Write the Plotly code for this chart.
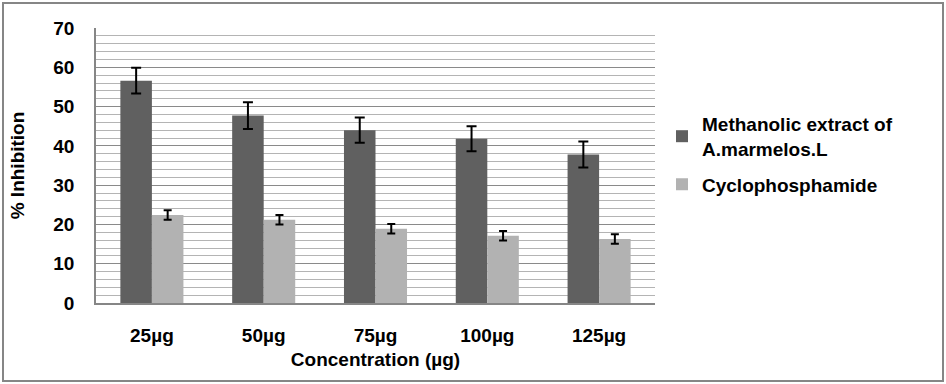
import plotly.graph_objects as go

categories = ["25µg", "50µg", "75µg", "100µg", "125µg"]
methanolic = [56.6, 47.7, 44.0, 41.8, 37.8]
methanolic_err = [3.3, 3.4, 3.2, 3.2, 3.3]
cyclo = [22.4, 21.2, 18.9, 17.1, 16.3]
cyclo_err = [1.2, 1.2, 1.2, 1.2, 1.2]
yticks = [0, 10, 20, 30, 40, 50, 60, 70]

W, H = 946, 384
L, R, T, B = 96, 291, 28, 81
pw, ph = W - L - R, H - T - B

font = dict(family="Arial, Liberation Sans, sans-serif", size=19, color="black", weight="bold")

fig = go.Figure()
fig.add_trace(go.Bar(
    x=categories, y=methanolic, name="Methanolic extract of<br>A.marmelos.L",
    legendgroup="a",
    marker=dict(color="#606060", line=dict(width=0)),
    error_y=dict(type="data", array=methanolic_err, color="black", thickness=2, width=5),
))
fig.add_trace(go.Bar(
    x=categories, y=cyclo, name="Cyclophosphamide",
    legendgroup="b",
    marker=dict(color="#b2b2b2", line=dict(width=0)),
    error_y=dict(type="data", array=cyclo_err, color="black", thickness=2, width=4),
))

fig.update_layout(
    width=W, height=H,
    margin=dict(l=L, r=R, t=T, b=B, pad=0),
    paper_bgcolor="white", plot_bgcolor="white",
    barmode="group", bargap=0.436, bargroupgap=0,
    font=font,
    showlegend=True,
    legend=dict(x=(662 - L) / pw, y=(303 - 105) / ph, xanchor="left", yanchor="top",
                font=font, tracegroupgap=8, itemwidth=30, bgcolor="rgba(0,0,0,0)"),
    xaxis=dict(
        title=dict(text="Concentration (µg)", font=font, standoff=8),
        showgrid=False, showline=True, linecolor="#868686", linewidth=1.5,
        ticks="outside", ticklen=14, tickcolor="rgba(0,0,0,0)",
        tickfont=font,
    ),
    yaxis=dict(
        title=dict(text="% Inhibition", font=font, standoff=24),
        range=[0, 70], tickvals=yticks,
        showgrid=True, gridcolor="#8a8a8a", gridwidth=1,
        minor=dict(dtick=2, showgrid=True, gridcolor="#b4b4b4", gridwidth=1),
        showline=True, linecolor="#868686", linewidth=1.5,
        ticks="outside", ticklen=16, tickcolor="rgba(0,0,0,0)",
        tickfont=font, zeroline=False,
    ),
    shapes=[dict(
        type="rect", xref="paper", yref="paper",
        x0=(3 - L) / pw, x1=(943 - L) / pw,
        y0=(303 - 381) / ph, y1=(303 - 3) / ph,
        line=dict(color="#868686", width=2), fillcolor="rgba(0,0,0,0)", layer="below",
    )],
)

fig.write_html("out.html", config={"displayModeBar": False},
               post_script="document.body.style.margin='0';")
